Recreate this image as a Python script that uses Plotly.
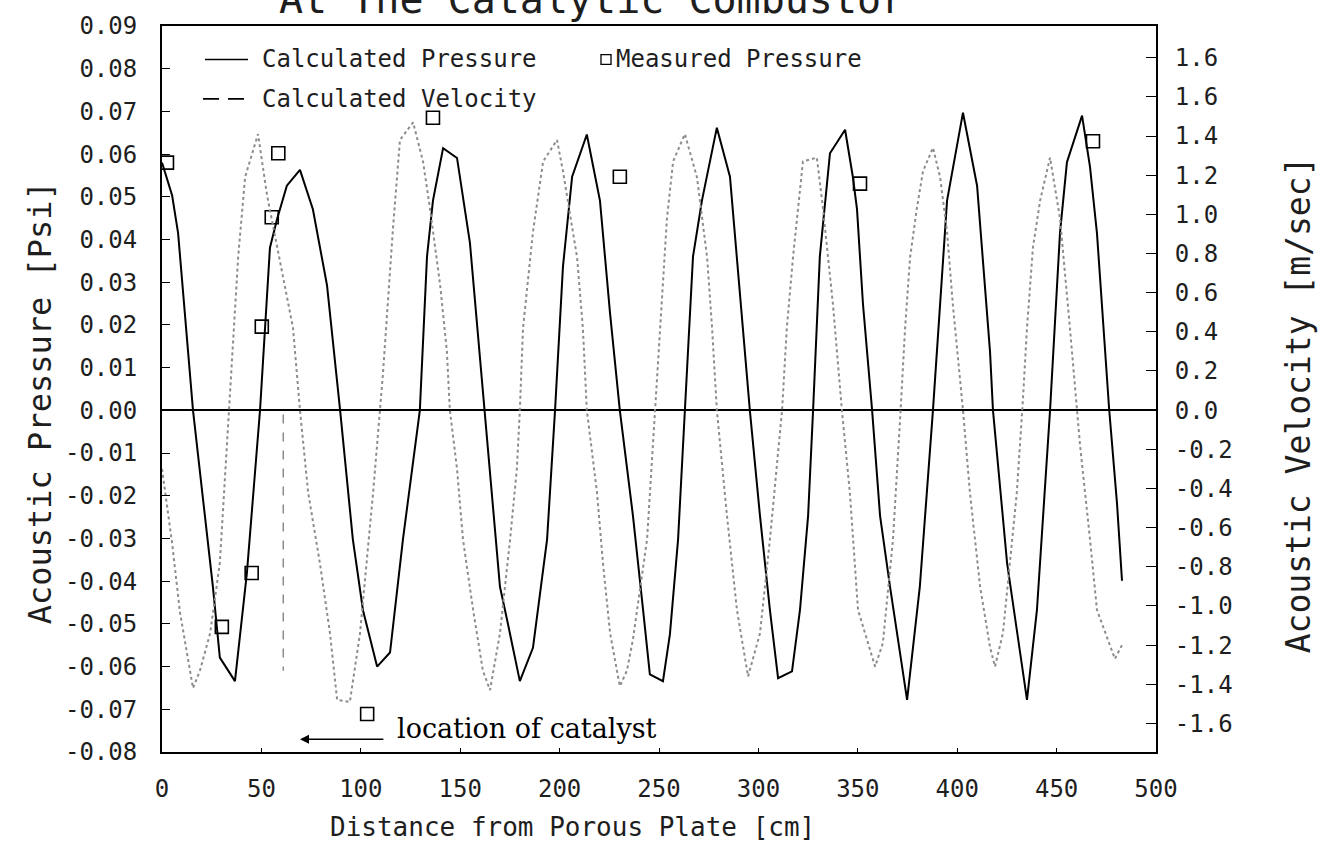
import plotly.graph_objects as go

# ---------------- data ----------------
press_x = [0, 5.1, 8.1, 15.6, 25.6, 29.1, 36.7, 42.7, 49.3, 54.3, 57.9, 62.8, 69.4, 75.9, 83.0,
           89.6, 96.0, 101.1, 108.2, 114.7, 121.2, 129.7, 133.3, 136.3, 141.4, 148.4, 154.9,
           162.4, 170.0, 173.6, 180.0, 186.6, 193.7, 197.7, 201.7, 206.3, 213.7, 220.3, 225.4,
           230.3, 235.4, 236.9, 242.0, 245.4, 252.0, 255.5, 259.6, 263.0, 267.1, 271.6, 279.1,
           285.7, 289.2, 295.7, 300.8, 305.8, 309.9, 316.9, 320.9, 325.0, 327.5, 330.9, 336.0,
           343.6, 347.5, 349.6, 352.6, 357.2, 361.2, 366.2, 374.8, 381.2, 387.8, 394.9, 402.9,
           410.0, 416.5, 418.0, 425.1, 435.1, 440.1, 446.7, 451.7, 455.2, 462.8, 466.8, 470.3,
           476.4, 480.4, 482.9]
press_p = [0.058, 0.0503, 0.0415, 0.0, -0.0413, -0.0579, -0.0634, -0.0381, 0.0, 0.0381, 0.0448,
           0.0526, 0.0563, 0.0471, 0.0293, 0.0, -0.0302, -0.0468, -0.0600, -0.0567, -0.0302, 0.0,
           0.0360, 0.0491, 0.0614, 0.0591, 0.0392, 0.0, -0.0413, -0.0491, -0.0634, -0.0556,
           -0.0302, 0.0, 0.0337, 0.0547, 0.0646, 0.0491, 0.0226, 0.0, -0.0191, -0.0247, -0.0468,
           -0.0618, -0.0634, -0.0524, -0.0302, 0.0, 0.0360, 0.0491, 0.0662, 0.0547, 0.0360, 0.0,
           -0.0247, -0.0468, -0.0627, -0.0611, -0.0468, -0.0247, 0.0, 0.0360, 0.0602, 0.0657,
           0.0547, 0.0471, 0.0249, 0.0, -0.0247, -0.0413, -0.0678, -0.0413, 0.0, 0.0491, 0.0697,
           0.0526, 0.0138, 0.0, -0.0358, -0.0678, -0.0468, 0.0, 0.0415, 0.0581, 0.0690, 0.0570,
           0.0415, 0.0005, -0.0219, -0.0399]

vel_x = [0, 5.1, 9.0, 15.6, 19.1, 24.2, 29.1, 32.7, 34.2, 38.3, 41.8, 48.3, 52.8, 59.3, 65.9,
         69.4, 73.5, 79.4, 84.5, 88.1, 94.5, 99.6, 106.2, 111.1, 116.2, 119.7, 126.3, 131.3,
         134.8, 139.9, 143.3, 144.8, 148.4, 151.4, 156.5, 161.4, 165.0, 170.0, 175.1, 178.5,
         180.0, 181.6, 186.6, 191.7, 198.7, 201.7, 208.8, 211.7, 213.7, 218.8, 221.8, 225.4,
         230.3, 233.9, 236.9, 244.0, 248.0, 250.5, 254.0, 257.1, 263.0, 269.1, 274.2, 276.7,
         279.1, 284.2, 289.2, 294.8, 300.8, 305.8, 311.9, 314.3, 317.4, 322.4, 329.4, 332.5,
         337.5, 342.0, 346.0, 350.1, 358.7, 362.6, 367.7, 371.2, 373.8, 376.3, 379.7, 382.8,
         387.8, 391.4, 394.9, 397.8, 401.4, 402.9, 406.4, 411.5, 416.5, 419.0, 423.0, 426.6,
         430.0, 433.1, 435.1, 438.1, 441.7, 446.7, 451.7, 456.7, 461.8, 466.8, 470.3, 479.3,
         482.9]
vel_v = [-0.30, -0.68, -1.03, -1.42, -1.33, -1.14, -0.78, -0.18, 0.11, 0.78, 1.19, 1.41, 1.10,
         0.76, 0.42, 0.0, -0.42, -0.78, -1.14, -1.48, -1.49, -1.14, -0.42, 0.18, 0.93, 1.38, 1.47,
         1.27, 1.03, 0.64, 0.30, 0.0, -0.30, -0.66, -1.02, -1.33, -1.43, -1.14, -0.66, -0.30, 0.0,
         0.42, 0.91, 1.27, 1.38, 1.22, 0.78, 0.42, 0.0, -0.42, -0.78, -1.14, -1.41, -1.33, -1.17,
         -0.66, 0.0, 0.42, 0.98, 1.27, 1.41, 1.19, 0.78, 0.42, 0.0, -0.54, -1.02, -1.36, -1.14,
         -0.66, 0.0, 0.42, 0.78, 1.27, 1.29, 1.03, 0.54, 0.0, -0.42, -1.02, -1.31, -1.19, -0.66,
         -0.06, 0.42, 0.78, 1.03, 1.22, 1.34, 1.19, 0.91, 0.54, 0.16, 0.0, -0.42, -0.90, -1.21,
         -1.31, -1.14, -0.78, -0.42, 0.06, 0.42, 0.83, 1.07, 1.29, 0.98, 0.42, -0.18, -0.66,
         -1.02, -1.27, -1.20]

meas_x = [2.5, 30.1, 45.1, 50.2, 55.2, 58.5, 103.2, 136.3, 230.3, 351.1, 468.3]
meas_p = [0.058, -0.0507, -0.0381, 0.0196, 0.0452, 0.0602, -0.0711, 0.0685, 0.0547, 0.0531, 0.0630]

x_ticks = [0, 50, 100, 150, 200, 250, 300, 350, 400, 450, 500]
p_ticks = [0.09, 0.08, 0.07, 0.06, 0.05, 0.04, 0.03, 0.02, 0.01, 0.0, -0.01, -0.02, -0.03,
           -0.04, -0.05, -0.06, -0.07, -0.08]
v_ticks = [1.8, 1.6, 1.4, 1.2, 1.0, 0.8, 0.6, 0.4, 0.2, 0.0, -0.2, -0.4, -0.6, -0.8, -1.0,
           -1.2, -1.4, -1.6]
v_ticktext = ["1.6", "1.6", "1.4", "1.2", "1.0", "0.8", "0.6", "0.4", "0.2", "0.0", "-0.2",
              "-0.4", "-0.6", "-0.8", "-1.0", "-1.2", "-1.4", "-1.6"]

catalyst_x = 61
catalyst_line_y = [-0.001, -0.061]
arrow_head_x, arrow_tail_x, arrow_y = 69.4, 112.1, -0.077
label_x, label_y = 117.2, -0.0745

# ---------------- layout helpers ----------------
W, H = 1326, 850
PL, PR, PT, PB = 162, 1156, 15, 752


def px(x):
    return (x - PL) / (PR - PL)


def py(y):
    return (PB - y) / (PB - PT)


MONO = "DejaVu Sans Mono"
TXT = "#1e1e1e"

fig = go.Figure()
fig.add_trace(go.Scatter(x=vel_x, y=vel_v, yaxis="y2", mode="lines", name="Calculated Velocity",
                         line=dict(color="#8c8c8c", width=2, dash="dot"), showlegend=False))
fig.add_trace(go.Scatter(x=press_x, y=press_p, mode="lines", name="Calculated Pressure",
                         line=dict(color="black", width=2), showlegend=False))
fig.add_trace(go.Scatter(x=meas_x, y=meas_p, mode="markers", name="Measured Pressure",
                         marker=dict(symbol="square-open", size=13, color="black",
                                     line=dict(width=1.6)), showlegend=False))

shapes = [
    dict(type="line", xref="x", yref="y", x0=catalyst_x, x1=catalyst_x,
         y0=catalyst_line_y[0], y1=catalyst_line_y[1],
         line=dict(color="#8c8c8c", width=1.5, dash="dash")),
    dict(type="line", xref="paper", yref="paper", x0=px(205), x1=px(248), y0=py(49), y1=py(49),
         line=dict(color="black", width=1.6)),
    dict(type="line", xref="paper", yref="paper", x0=px(203), x1=px(244), y0=py(89), y1=py(89),
         line=dict(color="black", width=1.6, dash="16px,9px")),
    dict(type="rect", xref="paper", yref="paper", x0=px(601), x1=px(611), y0=py(54), y1=py(44),
         line=dict(color="black", width=1.3)),
]

annotations = [
    dict(text="Calculated Pressure", x=px(260), y=py(49), xref="paper", yref="paper",
         xanchor="left", yanchor="middle", showarrow=False, font=dict(family=MONO, size=24, color=TXT)),
    dict(text="Calculated Velocity", x=px(260), y=py(89), xref="paper", yref="paper",
         xanchor="left", yanchor="middle", showarrow=False, font=dict(family=MONO, size=24, color=TXT)),
    dict(text="Measured Pressure", x=px(614), y=py(49), xref="paper", yref="paper",
         xanchor="left", yanchor="middle", showarrow=False, font=dict(family=MONO, size=24, color=TXT)),
    dict(x=arrow_head_x, y=arrow_y, ax=arrow_tail_x, ay=arrow_y, xref="x", yref="y",
         axref="x", ayref="y", text="", showarrow=True, arrowhead=2, arrowsize=1.2,
         arrowwidth=1.5, arrowcolor="black"),
    dict(text="location of catalyst", x=label_x, y=label_y, xref="x", yref="y",
         xanchor="left", yanchor="middle", showarrow=False,
         font=dict(family="DejaVu Serif", size=27, color="black")),
    dict(text="Acoustic Pressure [Psi]", x=px(40), y=py(398), xref="paper", yref="paper",
         textangle=-90, showarrow=False, xanchor="center", yanchor="middle",
         font=dict(family=MONO, size=32, color=TXT)),
    dict(text="Acoustic Velocity [m/sec]", x=px(1298), y=py(400), xref="paper", yref="paper",
         textangle=-90, showarrow=False, xanchor="center", yanchor="middle",
         font=dict(family=MONO, size=33, color=TXT)),
    dict(text="Distance from Porous Plate [cm]", x=px(572), y=py(828), xref="paper", yref="paper",
         showarrow=False, xanchor="center", yanchor="middle",
         font=dict(family=MONO, size=26, color=TXT)),
    # chart title (cut off at the top of the page in the original)
    dict(text="At The Catalytic Combustor", x=px(592), y=py(-12), xref="paper", yref="paper",
         showarrow=False, xanchor="center", yanchor="middle",
         font=dict(family=MONO, size=40, color=TXT)),
]

fig.update_layout(
    width=W, height=H,
    margin=dict(l=PL, r=W - PR, t=PT, b=H - PB, pad=0),
    paper_bgcolor="white", plot_bgcolor="white",
    showlegend=False,
    shapes=shapes, annotations=annotations,
    xaxis=dict(range=[0, 500], tickvals=x_ticks, ticktext=[str(v) for v in x_ticks],
               showgrid=False, zeroline=False, showline=True, mirror=True,
               linecolor="black", linewidth=2, ticks="inside", ticklen=4, tickcolor="black",
               ticklabelstandoff=14, tickfont=dict(family=MONO, size=24, color=TXT)),
    yaxis=dict(range=[-0.08, 0.09], tickvals=p_ticks, ticktext=[f"{v:.2f}" for v in p_ticks],
               showgrid=False, zeroline=True, zerolinecolor="black", zerolinewidth=1.6,
               showline=True, linecolor="black", linewidth=2, ticks="inside", ticklen=8,
               tickcolor="black", ticklabelstandoff=18,
               tickfont=dict(family=MONO, size=24, color=TXT)),
    yaxis2=dict(range=[-1.746, 1.962], overlaying="y", side="right", tickvals=v_ticks,
                ticktext=v_ticktext, showgrid=False, zeroline=False, showline=True,
                linecolor="black", linewidth=2, ticks="inside", ticklen=10, tickcolor="black",
                ticklabelstandoff=12, tickfont=dict(family=MONO, size=24, color=TXT)),
)

fig.write_html("out.html")
